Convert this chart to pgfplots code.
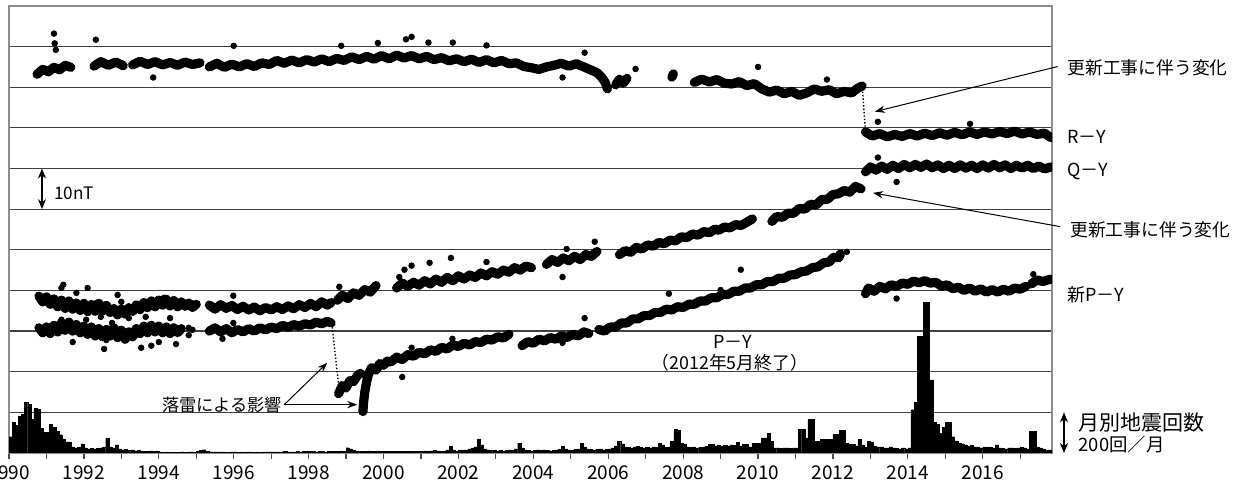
\documentclass[border=0pt]{standalone}
\usepackage{fontspec}
\setmainfont{Noto Sans CJK JP}
\usepackage{pgfplots}
\usepackage{pgfplotstable}
\pgfplotsset{compat=1.18}
\usetikzlibrary{arrows.meta}

\newcommand\fs[1]{\fontsize{#1}{#1}\selectfont}

% monthly earthquake counts (events / month)
\pgfplotstableread{
yr   m1  m2  m3  m4  m5  m6  m7  m8  m9  m10 m11 m12
1990 80  150 135 180 190 250 240 165 220 215 120 100
1991 100 140 125 105 90  70  55  55  30  25  28  45
1992 25  20  22  20  22  25  30  72  30  25  40  20
1993 15  18  12  15  10  12  10  8   8   10  8   10
1994 5   4   5   3   4   3   3   5   4   6   5   4
1995 8   12  16  8   5   5   6   5   5   4   4   5
1996 5   4   5   4   6   5   4   5   4   5   6   5
1997 6   5   6   5   7   6   5   6   7   6   8   7
1998 8   7   6   8   7   6   7   8   9   8   10  9
1999 26  20  12  10  8   9   8   10  9   8   10  9
2000 8   7   8   9   8   7   8   9   8   7   8   8
2001 8   10  8   10  12  10  8   10  15  33  15  10
2002 15  12  15  20  25  30  69  40  20  15  12  12
2003 10  12  10  12  15  12  20  49  25  15  12  10
2004 12  15  12  15  12  10  12  15  18  33  20  15
2005 15  18  20  46  30  20  18  15  18  20  15  18
2006 20  25  35  57  45  30  28  25  30  33  28  25
2007 28  25  30  28  46  40  28  30  57  115 110 49
2008 45  30  28  30  25  28  30  32  44  44  35  38
2009 35  38  35  40  38  54  35  44  44  30  49  49
2010 49  74  74  98  57  25  25  22  25  25  22  25
2011 25  115 115 74  164 164 57  57  66  66  66  66
2012 93  93  110 110 49  41  41  35  66  40  30  57
2013 55  35  30  30  25  25  30  25  22  20  25  20
2014 25  213 250 575 575 742 742 360 150 140 98  125
2015 150 150 80  60  50  45  40  35  38  30  30  25
2016 30  28  30  25  40  25  22  20  25  25  22  25
2017 28  25  20  105 105 30  25  20  15  15  10  nan
}\quakes

\pgfplotsset{
  mag/.style={black, line width=4.6pt, line join=round, line cap=round,
    mark=none, unbounded coords=jump},
  out/.style={black, only marks, mark=*, mark size=1.4pt},
}

\begin{document}
\begin{tikzpicture}
\begin{axis}[
  at={(0pt,0pt)}, anchor=south west,
  scale only axis, width=521.5pt, height=223.5pt,
  xmin=1990, xmax=2017.85, ymin=0, ymax=110,
  xtick={1990,1992,...,2016}, minor xtick={1991,1993,...,2017},
  xtick pos=left, tick align=outside,
  major tick length=3pt, minor tick length=3pt,
  /pgf/number format/1000 sep={},
  /pgf/number format/assume math mode=true,
  xticklabel style={font=\fs{9.5}},
  xtick style={black!70, line width=0.6pt},
  ytick={0,10,...,110}, yticklabels={}, ytick style={draw=none},
  ymajorgrids, major grid style={black!75, line width=0.6pt},
  axis line style={black!45, line width=0.6pt},
  clip mode=individual,
]
% R-Y
\addplot[mag] coordinates {
(1990.75,93.2)(1990.9,94.4)(1991.05,93.8)(1991.2,94.9)(1991.35,94.3)(1991.5,95.4)(1991.65,94.9)(1991.72,nan)
(1992.27,95.2)(1992.45,96.3)(1992.65,95.4)(1992.85,96.2)(1993.05,95.3)(1993.2,nan)
(1993.3,95.5)(1993.5,96.4)(1993.7,95.6)(1993.9,96.3)(1994.1,95.5)(1994.3,96.1)(1994.5,95.4)(1994.7,96.2)(1994.9,95.6)(1995.1,96.0)(1995.2,nan)
(1995.35,95.0)(1995.55,95.9)(1995.75,94.9)(1995.95,95.7)(1996.15,95.0)(1996.35,95.8)(1996.55,95.1)(1996.75,96.0)(1996.95,95.6)(1997.15,96.6)(1997.35,95.9)(1997.55,96.7)(1997.75,96.0)(1997.95,96.8)(1998.15,96.2)(1998.35,97.0)(1998.55,96.3)(1998.75,97.1)(1998.95,96.6)(1999.15,97.5)(1999.35,96.8)(1999.55,97.6)(1999.75,96.9)(1999.95,97.8)(2000.15,97.0)(2000.35,97.9)(2000.55,97.2)(2000.75,97.8)(2000.95,97.0)(2001.15,97.6)(2001.35,96.8)(2001.55,97.3)(2001.75,96.5)(2001.95,97.0)(2002.15,96.3)(2002.35,96.9)(2002.55,96.1)(2002.75,96.8)(2002.95,96.0)(2003.15,96.6)(2003.35,95.8)(2003.55,96.0)(2003.75,95.1)(2003.95,94.8)(2004.15,94.4)(2004.35,95.0)(2004.55,95.4)(2004.75,95.9)(2004.95,95.2)(2005.15,95.8)(2005.35,95.0)(2005.55,94.2)(2005.7,93.6)(2005.82,92.5)(2005.92,91.2)(2005.98,89.6)(2006.05,nan)
(2006.2,90.6)(2006.3,92.0)(2006.4,91.0)(2006.5,92.2)(2006.58,nan)
(2007.7,92.5)(2007.74,93.3)(2007.78,nan)
(2008.3,91.2)(2008.5,92.0)(2008.7,91.3)(2008.9,91.9)(2009.1,91.0)(2009.3,90.8)(2009.5,91.4)(2009.7,90.4)(2009.9,90.9)(2010.1,89.6)(2010.3,88.8)(2010.5,89.3)(2010.7,88.4)(2010.9,89.0)(2011.1,88.0)(2011.3,88.6)(2011.5,89.6)(2011.7,89.0)(2011.9,89.4)(2012.1,88.4)(2012.3,89.0)(2012.5,88.6)(2012.65,89.7)(2012.78,90.3)(2012.82,nan)
(2012.87,79.0)(2013.05,78.0)(2013.25,78.6)(2013.45,77.8)(2013.65,78.4)(2013.85,77.9)(2014.05,78.6)(2014.25,78.0)(2014.45,78.7)(2014.65,78.1)(2014.85,78.8)(2015.05,78.2)(2015.25,78.9)(2015.45,78.3)(2015.65,79.0)(2015.85,78.4)(2016.05,79.0)(2016.25,78.5)(2016.45,79.1)(2016.65,78.6)(2016.85,79.2)(2017.05,78.5)(2017.25,79.0)(2017.45,78.4)(2017.65,78.7)(2017.82,77.6)
};
\addplot[black, densely dotted, line width=0.7pt] coordinates {(2012.78,90.6)(2012.86,80.3)};
% Q-Y
\addplot[mag] coordinates {
(1990.8,38.6)(1990.9,37.2)(1991.0,38.4)(1991.1,36.6)(1991.2,37.9)(1991.3,36.0)(1991.4,37.6)(1991.5,35.6)(1991.6,37.4)(1991.7,35.4)(1991.8,36.9)(1991.9,35.1)(1992.0,36.8)(1992.1,34.8)(1992.2,36.5)(1992.3,34.9)(1992.4,36.8)(1992.5,35.0)(1992.6,36.3)(1992.7,34.6)(1992.8,35.6)(1992.9,34.0)(1993.0,35.4)(1993.1,34.2)(1993.2,35.8)(1993.3,34.8)(1993.4,36.4)(1993.5,35.3)(1993.6,37.0)(1993.7,35.8)(1993.8,37.4)(1993.9,36.0)(1994.0,37.6)(1994.1,36.4)(1994.2,37.8)(1994.3,36.2)(1994.4,37.5)(1994.5,36.0)(1994.6,37.2)(1994.7,36.1)(1994.8,36.9)(1994.9,35.8)(1995.0,36.6)(1995.1,nan)
(1995.35,36.4)(1995.5,35.4)(1995.65,36.5)(1995.8,35.6)(1995.95,36.3)(1996.1,35.3)(1996.25,36.1)(1996.4,35.2)(1996.55,35.9)(1996.7,35.0)(1996.85,35.8)(1997.0,35.2)(1997.15,36.0)(1997.3,35.3)(1997.45,36.2)(1997.6,35.5)(1997.75,36.5)(1997.9,35.8)(1998.05,36.8)(1998.2,36.0)(1998.35,37.2)(1998.5,36.4)(1998.6,37.0)(1998.68,nan)
(1998.77,37.6)(1998.9,38.8)(1999.05,38.0)(1999.2,39.4)(1999.35,38.8)(1999.5,40.2)(1999.65,39.6)(1999.8,41.2)(1999.86,nan)
(2000.35,40.6)(2000.5,41.8)(2000.65,41.0)(2000.8,42.0)(2000.95,41.3)(2001.1,42.4)(2001.25,41.6)(2001.4,42.8)(2001.55,42.0)(2001.7,43.2)(2001.85,42.4)(2002.0,43.6)(2002.15,42.8)(2002.3,43.8)(2002.45,43.2)(2002.6,44.3)(2002.75,43.6)(2002.9,44.6)(2003.05,44.0)(2003.2,45.0)(2003.35,44.5)(2003.5,45.6)(2003.65,45.0)(2003.8,46.0)(2003.95,45.6)(2004.02,nan)
(2004.35,46.4)(2004.5,47.6)(2004.65,46.9)(2004.8,48.0)(2004.95,47.3)(2005.1,48.4)(2005.25,47.6)(2005.4,48.8)(2005.55,48.4)(2005.7,49.6)(2005.78,nan)
(2006.3,48.8)(2006.45,49.8)(2006.6,49.4)(2006.75,50.6)(2006.9,50.2)(2007.05,51.2)(2007.2,50.9)(2007.35,51.8)(2007.5,51.5)(2007.65,52.4)(2007.8,52.2)(2007.95,53.2)(2008.1,53.0)(2008.25,53.9)(2008.4,53.6)(2008.55,54.5)(2008.7,54.2)(2008.85,55.1)(2008.95,54.8)(2009.1,55.6)(2009.25,55.4)(2009.4,56.2)(2009.55,56.0)(2009.7,56.8)(2009.85,57.6)(2009.9,nan)
(2010.37,57.0)(2010.5,58.2)(2010.65,58.0)(2010.8,59.0)(2010.95,59.0)(2011.1,60.2)(2011.25,60.0)(2011.4,61.2)(2011.55,61.0)(2011.7,62.4)(2011.85,62.4)(2012.0,63.6)(2012.15,63.8)(2012.3,64.6)(2012.45,64.2)(2012.6,65.6)(2012.75,65.0)(2012.8,nan)
(2012.87,69.2)(2013.0,70.4)(2013.15,69.6)(2013.3,70.6)(2013.45,69.8)(2013.6,70.8)(2013.75,70.0)(2013.9,71.0)(2014.05,70.2)(2014.2,71.0)(2014.35,70.3)(2014.5,71.1)(2014.65,70.2)(2014.8,70.9)(2014.95,70.0)(2015.1,70.8)(2015.25,70.0)(2015.4,70.9)(2015.55,70.1)(2015.7,70.8)(2015.85,70.0)(2016.0,70.9)(2016.15,70.1)(2016.3,71.0)(2016.45,70.2)(2016.6,70.9)(2016.75,70.0)(2016.9,70.8)(2017.05,70.1)(2017.2,70.8)(2017.35,70.0)(2017.5,70.6)(2017.65,69.9)(2017.82,70.4)
};
% P-Y (ended May 2012)
\addplot[mag] coordinates {
(1990.8,30.8)(1990.9,29.6)(1991.0,31.0)(1991.1,29.4)(1991.2,31.4)(1991.3,29.8)(1991.4,32.0)(1991.5,30.2)(1991.6,32.2)(1991.7,30.0)(1991.8,31.6)(1991.9,29.6)(1992.0,31.2)(1992.1,29.2)(1992.2,31.0)(1992.3,28.8)(1992.4,30.6)(1992.5,28.6)(1992.6,30.4)(1992.7,28.8)(1992.8,30.8)(1992.9,28.4)(1993.0,30.2)(1993.1,28.0)(1993.2,29.8)(1993.3,28.6)(1993.4,30.6)(1993.5,29.4)(1993.6,31.2)(1993.7,29.6)(1993.8,31.4)(1993.9,29.8)(1994.0,31.2)(1994.1,29.6)(1994.2,31.0)(1994.3,29.4)(1994.4,30.8)(1994.5,29.6)(1994.6,30.6)(1994.7,nan)
(1995.35,30.0)(1995.5,30.8)(1995.65,29.8)(1995.8,30.6)(1995.95,29.6)(1996.1,30.4)(1996.25,29.8)(1996.4,30.6)(1996.55,30.0)(1996.7,30.8)(1996.85,30.3)(1997.0,31.0)(1997.15,30.6)(1997.3,31.4)(1997.45,30.9)(1997.6,31.6)(1997.75,31.2)(1997.9,31.8)(1998.05,31.5)(1998.2,32.2)(1998.35,31.8)(1998.5,32.4)(1998.6,32.0)(1998.65,nan)
(1998.8,14.6)(1998.9,16.6)(1999.0,16.0)(1999.1,17.8)(1999.2,17.6)(1999.3,19.0)(1999.38,19.6)(1999.42,nan)
(1999.45,10.2)(1999.47,12.6)(1999.5,15.0)(1999.55,17.6)(1999.6,19.4)(1999.68,21.0)(1999.8,20.4)(1999.9,22.0)(2000.0,21.6)(2000.1,22.6)(2000.2,22.4)(2000.35,23.6)(2000.5,23.0)(2000.65,24.2)(2000.8,23.8)(2000.95,24.8)(2001.1,24.4)(2001.25,25.4)(2001.4,25.0)(2001.55,26.0)(2001.7,25.6)(2001.85,26.6)(2002.0,26.2)(2002.15,27.0)(2002.3,26.6)(2002.45,27.4)(2002.6,27.2)(2002.75,28.0)(2002.9,27.8)(2003.05,28.6)(2003.2,28.3)(2003.35,29.2)(2003.42,nan)
(2003.7,26.4)(2003.85,27.4)(2004.0,27.0)(2004.15,28.0)(2004.3,27.6)(2004.45,28.4)(2004.6,28.0)(2004.75,28.8)(2004.9,28.4)(2005.05,29.2)(2005.2,28.8)(2005.35,29.8)(2005.48,29.4)(2005.55,nan)
(2005.75,30.4)(2005.9,30.0)(2006.05,31.0)(2006.2,31.0)(2006.35,32.0)(2006.5,32.0)(2006.65,33.0)(2006.8,33.0)(2006.95,33.8)(2007.1,33.8)(2007.25,34.6)(2007.4,34.6)(2007.55,35.4)(2007.7,35.2)(2007.85,36.0)(2008.0,35.8)(2008.15,36.6)(2008.3,36.6)(2008.45,37.4)(2008.6,37.4)(2008.75,38.2)(2008.9,38.2)(2009.05,39.0)(2009.2,39.0)(2009.35,39.8)(2009.5,39.8)(2009.65,40.6)(2009.8,40.6)(2009.95,41.4)(2010.1,41.4)(2010.25,42.2)(2010.4,42.2)(2010.55,43.0)(2010.7,43.0)(2010.85,43.8)(2011.0,43.9)(2011.15,44.6)(2011.3,44.8)(2011.45,45.6)(2011.6,45.8)(2011.75,46.8)(2011.9,47.0)(2012.02,48.2)(2012.06,nan)
(2012.15,48.0)(2012.2,49.0)
};
\addplot[black, densely dotted, line width=0.7pt] coordinates {(1998.62,31.8)(1998.82,15.2)};
% new P-Y
\addplot[mag] coordinates {
(2012.87,39.2)(2012.95,40.6)(2013.1,39.8)(2013.25,41.0)(2013.4,40.4)(2013.55,41.4)(2013.7,41.0)(2013.85,41.8)(2014.0,41.5)(2014.15,42.3)(2014.3,41.9)(2014.45,42.4)(2014.6,41.8)(2014.75,42.0)(2014.9,41.0)(2015.05,41.4)(2015.2,40.4)(2015.35,40.8)(2015.5,40.0)(2015.65,40.6)(2015.8,39.8)(2015.95,40.4)(2016.1,39.6)(2016.25,40.2)(2016.4,39.6)(2016.55,40.3)(2016.7,39.8)(2016.85,40.6)(2017.0,40.3)(2017.15,41.0)(2017.22,nan)
(2017.3,41.6)(2017.45,42.6)(2017.6,42.2)(2017.82,42.8)
};
% scattered single readings
\addplot[out] coordinates {
(1991.2,103.2)(1991.22,100.8)(1991.25,99.2)(1992.32,101.7)(1993.85,92.4)(1996.0,100.2)(1998.87,100.2)(1999.85,100.9)(2000.6,101.8)(2000.75,102.4)(2001.2,101.0)(2001.85,101.0)(2002.75,100.3)(2004.78,92.4)(2005.37,98.5)(2006.73,94.5)(2010.0,95.0)(2011.84,91.9)
(2013.2,81.5)(2015.66,81.0)(2013.2,72.7)(2013.7,66.7)
(1991.4,40.6)(1992.1,40.6)(1992.54,25.6)(1993.53,25.9)(1993.8,26.4)(1994.46,26.8)(1994.14,38.2)(1995.99,38.7)(1995.7,28.1)(1995.99,32.0)(1994.8,29.0)(1998.82,40.9)(2000.42,43.3)(2000.5,18.7)(2000.56,45.1)
(1991.45,41.4)(1991.8,39.4)(1992.33,36.9)(1992.9,38.9)(1993.0,37.2)(1992.45,33.5)(1993.2,33.2)(1993.65,33.5)(1994.3,33.2)(1994.9,30.3)(1994.87,36.9)(1991.4,32.8)(1992.06,32.8)(1992.75,32.0)(1992.6,27.8)(1991.7,27.3)(1994.0,27.3)(1994.8,30.8)(1990.93,29.8)
(2000.75,46.1)(2001.23,46.8)(2001.8,48.0)(2002.75,47.0)(2004.78,43.3)(2004.89,50.2)(2005.64,52.0)(2009.54,45.1)(2007.62,39.2)(2009.0,40.1)(2012.37,49.5)(2004.78,27.1)(2005.37,33.2)(2001.84,28.1)(2000.75,25.9)
(2013.7,38.0)(2017.35,44.0)
};
% annotations
\draw[black, line width=0.6pt, {Stealth[length=5pt,width=4pt]}-{Stealth[length=5pt,width=4pt]}] (1990.88,70) -- (1990.88,60);
\node[anchor=west, inner sep=0pt, font=\fs{8.6}] at (1991.2,64) {10nT};
\node[anchor=west, inner sep=0pt, font=\fs{8.9}] at (2018.25,94.8) {更新工事に伴う変化};
\draw[black, line width=0.5pt, -{Stealth[length=5pt,width=3.6pt]}] (2018.0,95.1) -- (2013.12,84.0);
\node[anchor=west, inner sep=0pt, font=\fs{9}] at (2018.25,77.8) {R－Y};
\node[anchor=west, inner sep=0pt, font=\fs{9}] at (2018.25,69.2) {Q－Y};
\node[anchor=west, inner sep=0pt, font=\fs{8.9}] at (2018.33,54.9) {更新工事に伴う変化};
\draw[black, line width=0.5pt, -{Stealth[length=5pt,width=3.6pt]}] (2018.07,55.7) -- (2013.07,64.0);
\node[anchor=west, inner sep=0pt, font=\fs{9}] at (2018.25,38.9) {新P－Y};
\draw[black, line width=0.6pt, {Stealth[length=5pt,width=4pt]}-{Stealth[length=5pt,width=4pt]}] (2018.17,10) -- (2018.17,0);
\node[anchor=west, inner sep=0pt, font=\fs{10.5}] at (2018.55,7.6) {月別地震回数};
\node[anchor=west, inner sep=0pt, font=\fs{9.2}] at (2018.55,2.0) {200回／月};
\node[anchor=east, inner sep=0pt, font=\fs{8.6}] at (1997.3,11.9) {落雷による影響};
\draw[black, line width=0.5pt, -{Stealth[length=5pt,width=3.6pt]}] (1997.35,11.9) -- (1998.5,22.2);
\draw[black, line width=0.5pt, -{Stealth[length=5pt,width=3.6pt]}] (1997.35,11.9) -- (1999.3,11.9);
\node[inner sep=0pt, font=\fs{9}] at (2009.33,27.3) {P－Y};
\node[inner sep=0pt, font=\fs{8.9}] at (2009.25,22.2) {（2012年5月終了）};
\end{axis}
% monthly earthquake counts, 200 per grid band
\begin{axis}[
  at={(0pt,0pt)}, anchor=south west,
  scale only axis, width=521.5pt, height=223.5pt,
  xmin=1990, xmax=2017.85, ymin=0, ymax=2200,
  hide axis,
]
\pgfplotsinvokeforeach{1,...,12}{
  \addplot[ybar, bar width=0.0833, bar shift=0pt, fill=black, draw=black, line width=0.2pt]
    table[x expr=\thisrow{yr}+(#1-0.5)/12, y=m#1] {\quakes};
}
\end{axis}
\pgfresetboundingbox
\path[use as bounding box] (-4.5pt,-18.5pt) rectangle (612.5pt,226.5pt);
\end{tikzpicture}
\end{document}
